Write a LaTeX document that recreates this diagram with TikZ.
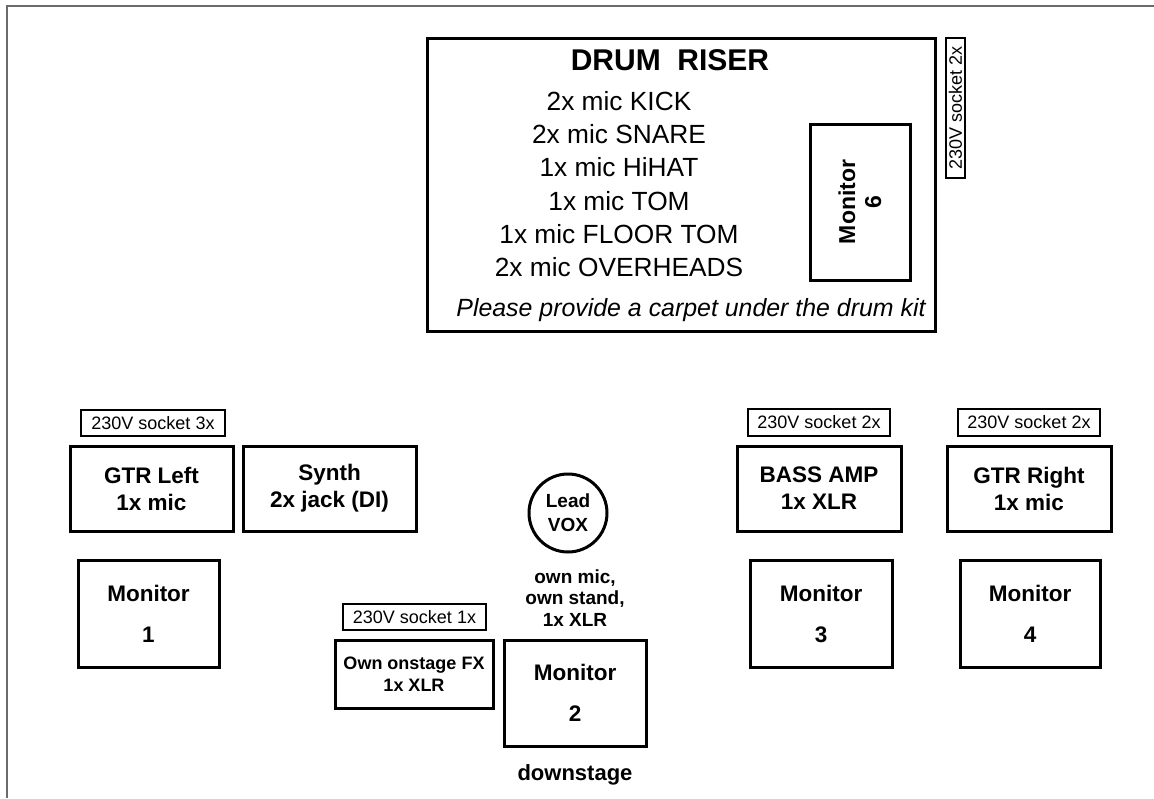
\documentclass[tikz,border=0pt]{standalone}
\usepackage{fontspec}
\setmainfont{Liberation Sans}
\begin{document}
\begin{tikzpicture}[x=1pt,y=-1pt,
  box/.style={draw, line width=3pt, align=center, inner sep=0pt,
    font=\bfseries\fontsize{22.5}{27}\selectfont},
  sock/.style={draw, line width=1.6pt, inner sep=0pt,
    font=\fontsize{18}{20}\selectfont},
  monbox/.style={box, font=\bfseries\fontsize{22.5}{41}\selectfont},
  plain/.style={align=center, inner sep=0pt}
]
\useasboundingbox (0,0) rectangle (1154,798);
\draw[line width=2.2pt, color=black!58] (7,798) -- (7,6) -- (1154,6);

% drum riser
\node[box, minimum width=508, minimum height=293] (riser) at (681,184.5) {};
\node[plain, font=\bfseries\fontsize{30}{33}\selectfont] (title) at (670,60) {DRUM\ \ RISER};
\node[plain, font=\fontsize{26.3}{33.3}\selectfont] (mics) at (619,184)
  {2x mic KICK\\2x mic SNARE\\1x mic HiHAT\\1x mic TOM\\1x mic FLOOR TOM\\2x mic OVERHEADS};
\node[plain, font=\itshape\fontsize{24.9}{28}\selectfont] (carpet) at (691,310)
  {Please provide a carpet under the drum kit};
\node[box, rotate=90, minimum width=156, minimum height=100,
  font=\bfseries\fontsize{23}{26}\selectfont] (mon6) at (860,202) {Monitor\\6};
\node[sock, rotate=90, minimum width=140, minimum height=19] (sockD) at (955.5,108) {230V socket 2x};

% left
\node[sock, minimum width=144, minimum height=26] (sock3) at (153,423) {230V socket 3x};
\node[box, minimum width=163, minimum height=85] (gtrL) at (151.5,488.5) {GTR Left\\1x mic};
\node[box, minimum width=173, minimum height=85] (synth) at (329.5,488.5) {Synth\\2x jack (DI)};
\node[monbox, minimum width=141, minimum height=107] (mon1) at (148.5,613.5) {Monitor\\1};

% centre
\node[sock, minimum width=143, minimum height=26] (sock1) at (414.5,617) {230V socket 1x};
\node[box, minimum width=158, minimum height=68,
  font=\bfseries\fontsize{18}{22.5}\selectfont] (fx) at (414,674) {Own onstage FX\\1x XLR};
\node[monbox, minimum width=142, minimum height=106] (mon2) at (575,693) {Monitor\\2};
\node[circle, draw, line width=3pt, minimum size=78, inner sep=0pt, align=center,
  font=\bfseries\fontsize{19}{24}\selectfont] (vox) at (568,513) {Lead\\VOX};
\node[plain, font=\bfseries\fontsize{19}{21.5}\selectfont] (ownmic) at (575,598)
  {own mic,\\own stand,\\1x XLR};
\node[plain, font=\bfseries\fontsize{22}{26}\selectfont] (down) at (575,775) {downstage};

% right
\node[sock, minimum width=142, minimum height=27] (sockB) at (819,422.5) {230V socket 2x};
\node[box, minimum width=164, minimum height=85] (bass) at (819,488.5) {BASS AMP\\1x XLR};
\node[monbox, minimum width=142, minimum height=107] (mon3) at (821,613.5) {Monitor\\3};
\node[sock, minimum width=142, minimum height=27] (sockR) at (1029,422.5) {230V socket 2x};
\node[box, minimum width=164, minimum height=85] (gtrR) at (1029,488.5) {GTR Right\\1x mic};
\node[monbox, minimum width=140, minimum height=107] (mon4) at (1030,613.5) {Monitor\\4};
\end{tikzpicture}
\end{document}
